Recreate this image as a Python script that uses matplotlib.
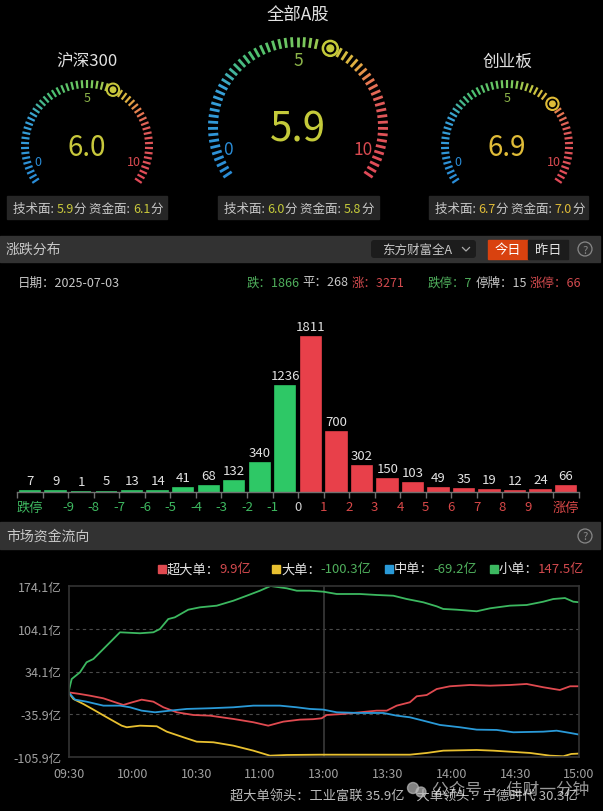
import numpy as np
import matplotlib
matplotlib.use("Agg")
import matplotlib.pyplot as plt
from matplotlib.patches import Rectangle, Circle, FancyBboxPatch
from matplotlib.colors import LinearSegmentedColormap

plt.rcParams['font.family'] = ['Noto Sans CJK SC', 'DejaVu Sans']

# ---------------- data ----------------
gauge_names = ["沪深300", "全部A股", "创业板"]
gauge_scores = [6.0, 5.9, 6.9]
tech_scores = [5.9, 6.0, 6.7]
fund_scores = [6.1, 5.8, 7.0]

trade_date = "2025-07-03"
count_down, count_flat, count_up = 1866, 268, 3271
limit_down, suspended, limit_up = 7, 15, 66

bar_values = [7, 9, 1, 5, 13, 14, 41, 68, 132, 340, 1236,
              1811, 700, 302, 150, 103, 49, 35, 19, 12, 24, 66]
bar_tick_labels = ["-9", "-8", "-7", "-6", "-5", "-4", "-3", "-2", "-1", "0",
                   "1", "2", "3", "4", "5", "6", "7", "8", "9"]

flow_names = ["超大单", "大单", "中单", "小单"]
flow_totals = [9.9, -100.3, -69.2, 147.5]

green_t = [0, 1.5, 5.4, 8.5, 11.7, 16.4, 20.3, 24.2, 33.6, 39.9, 43, 46.9, 50, 56.3, 61.8, 69.7, 77.5, 83.8, 90, 95,
           102.6, 107.3, 113.5, 119.8, 126.1, 137, 144.9, 152.7, 159, 166.8, 173.1, 176.2, 182.5, 191.9, 198.2, 207.5,
           215.4, 223.2, 227.9, 233.4, 237.3, 240]
green_v = [0, 21.8, 32.8, 49.2, 54.6, 71, 84.6, 98.3, 96.7, 98.3, 103.7, 120, 122.8, 135.3, 139.2, 141.9, 150, 158.2,
           166.4, 174.1, 170.3, 166.4, 166.4, 164.8, 161, 161, 159.4, 158.2, 152.8, 147.4, 140.8, 136.5, 135.3, 132.7,
           137.6, 141.9, 143, 148.4, 152.8, 154.4, 148.4, 147.5]

red_t = [0, 5.4, 10.1, 16.4, 21.1, 25.8, 28.9, 34.4, 39.9, 44.6, 50.9, 58.7, 66.5, 77.5, 86.9, 93.9, 101, 108.8, 115,
         119, 121.4, 129.2, 137, 144.9, 149.6, 154.3, 160.5, 163.7, 168.4, 173.1, 179.3, 188.7, 198.2, 207.5, 215.4,
         223.2, 231, 235.8, 240]
red_v = [0, -2.7, -5.5, -9.8, -15.3, -20.7, -17.4, -12, -15.3, -24.5, -32.7, -37.1, -38.2, -43.6, -49, -54.6, -48,
         -44.7, -44, -42.5, -37.1, -35.4, -32.7, -30, -30, -21.8, -16.3, -6.5, -4.4, 5.4, 9.9, 12, 10.9, 12, 13.7, 8.3,
         3.8, 9.9, 9.9]

blue_t = [0, 3.1, 8.5, 16.4, 24.2, 28.9, 34.4, 40.7, 47.7, 55.6, 66.5, 77.5, 86.9, 99.4, 107.3, 113.5, 119.8, 126.1,
          137, 148, 154.3, 160.5, 166.8, 174.6, 184, 191.9, 201.3, 209.1, 223.2, 229.5, 235.8, 240]
blue_v = [0, -12, -15.3, -21.8, -21.8, -24.5, -30, -32.7, -30, -27.2, -26.1, -24.5, -21.8, -21.8, -24.5, -27.2, -28.3,
          -32.7, -33.8, -33.8, -38.2, -40.9, -46.4, -53.4, -57.2, -61.1, -61.6, -65.4, -64.4, -62.8, -66.5, -69.2]

yellow_t = [0, 2.3, 7, 11.7, 18, 25, 27.4, 33.6, 41.5, 46.2, 54, 60.3, 68.1, 77.5, 86.9, 94.7, 102.6, 118.2, 129.2,
            160.5, 168.4, 176.2, 191.9, 199.7, 207.5, 217, 226.4, 232.6, 236.4, 240]
yellow_v = [0, -10.9, -19.1, -28.3, -40.9, -54.6, -57.2, -54.6, -55.6, -64.4, -73.6, -80.8, -81.8, -87.3, -95.5,
            -103.7, -102.6, -102.1, -102.1, -102.1, -99.3, -95.5, -94.4, -95.5, -97.2, -99.3, -103.7, -104.7, -100.9,
            -100.3]

y_ticks = [174.1, 104.1, 34.1, -35.9, -105.9]
x_tick_labels = ["09:30", "10:00", "10:30", "11:00", "13:00", "13:30", "14:00", "14:30", "15:00"]

leader_text = "超大单领头：工业富联 35.9亿    大单领头：宁德时代 30.3亿"

# ---------------- figure ----------------
W, H = 603, 812
fig = plt.figure(figsize=(W / 100, H / 100), dpi=100, facecolor='black')
ov = fig.add_axes([0, 0, 1, 1])
ov.set_xlim(0, W)
ov.set_ylim(H, 0)
ov.axis('off')
ov.set_facecolor('black')
renderer = fig.canvas.get_renderer()

def rect(l, t, r, b):
    return [l / W, 1 - b / H, (r - l) / W, (b - t) / H]

def seq(x, y, pieces, size):
    for s, c in pieces:
        t = ov.text(x, y, s, color=c, fontsize=size, va='center', ha='left')
        bb = t.get_window_extent(renderer=renderer)
        x += bb.width

GREEN_T = '#4fae5c'
RED_T = '#d24a4e'
GRAY_T = '#c8c8c8'
WHITE_T = '#e2e2e2'

# ---------------- gauges ----------------
cmap = LinearSegmentedColormap.from_list('g', [
    (0.0, '#2a8cd6'), (0.25, '#38a2d8'), (0.31, '#46b88e'), (0.37, '#4cc070'),
    (0.52, '#7cc85c'), (0.60, '#c8c840'), (0.67, '#e2b040'), (0.73, '#e87a52'),
    (0.80, '#e05a5a'), (1.0, '#e04a58')])

A0, SPAN = 214.0, 248.0

def gauge(cx, cy, r_in, r_out, n, value, mcol, lw, mr):
    tv = value / 10.0
    for i in range(n):
        t = i / (n - 1)
        if abs(t - tv) < 0.025:
            continue
        a = np.radians(A0 - SPAN * t)
        ov.plot([cx + r_in * np.cos(a), cx + r_out * np.cos(a)],
                [cy - r_in * np.sin(a), cy - r_out * np.sin(a)],
                color=cmap(t), lw=lw, solid_capstyle='butt')
    a = np.radians(A0 - SPAN * tv)
    rm = (r_in + r_out) / 2
    mx, my = cx + rm * np.cos(a), cy - rm * np.sin(a)
    ov.add_patch(Circle((mx, my), mr, color=mcol, zorder=5))
    ov.add_patch(Circle((mx, my), mr * 0.68, color='black', zorder=6))
    ov.add_patch(Circle((mx, my), mr * 0.42, color=mcol, zorder=7))

val_colors = ['#c8c83c', '#c4ca3a', '#e0bc38']
centers = [(87, 147), (298, 128), (507, 147)]
for k, (cx, cy) in enumerate(centers):
    big = (k == 1)
    if big:
        gauge(cx, cy, 80, 90, 61, gauge_scores[k], val_colors[k], 2.0, 8)
        ov.text(cx, 15, gauge_names[k], color=WHITE_T, fontsize=12.5, ha='center', va='center')
        ov.text(cx, cy + 2, f"{gauge_scores[k]:.1f}", color=val_colors[k], fontsize=29, ha='center', va='center')
        ov.text(cx - 70, cy + 22, "0", color='#2a8cd6', fontsize=12.5, ha='center', va='center')
        ov.text(cx + 65, cy + 22, "10", color='#d84a50', fontsize=12.5, ha='center', va='center')
        ov.text(cx, cy - 67, "5", color='#8cb44a', fontsize=12.5, ha='center', va='center')
    else:
        gauge(cx, cy, 58, 66, 55, gauge_scores[k], val_colors[k], 1.6, 6.5)
        ov.text(cx, 62, gauge_names[k], color=WHITE_T, fontsize=12, ha='center', va='center')
        ov.text(cx, cy + 1, f"{gauge_scores[k]:.1f}", color=val_colors[k], fontsize=20, ha='center', va='center')
        ov.text(cx - 49, cy + 16, "0", color='#2a8cd6', fontsize=9, ha='center', va='center')
        ov.text(cx + 47, cy + 16, "10", color='#d84a50', fontsize=9, ha='center', va='center')
        ov.text(cx, cy - 48, "5", color='#8cb44a', fontsize=9, ha='center', va='center')

# score boxes
boxes = [(7, 167), (218, 379), (429, 588)]
for k, (l, r) in enumerate(boxes):
    ov.add_patch(Rectangle((l, 197), r - l, 23, color='#262626', zorder=1))
    vc = val_colors[k]
    seq(l + 6, 209.5, [("技术面: ", GRAY_T), (f"{tech_scores[k]:.1f}", vc), ("分 ", GRAY_T),
                       ("资金面: ", GRAY_T), (f"{fund_scores[k]:.1f}", vc), ("分", GRAY_T)], 9)

# ---------------- header 1 ----------------
ov.add_patch(Rectangle((0, 237), 600, 26, color='#323232', zorder=1))
ov.text(6, 250, "涨跌分布", color=GRAY_T, fontsize=10, ha='left', va='center')
ov.add_patch(FancyBboxPatch((371, 241), 105, 18, boxstyle="round,pad=0,rounding_size=3",
                            fc='#1c1c1c', ec='none', zorder=2))
ov.text(382, 250, "东方财富全A", color=GRAY_T, fontsize=9, ha='left', va='center', zorder=3)
ov.plot([462.5, 466, 469.5], [248.5, 252, 248.5], color='#aaaaaa', lw=0.9, zorder=3)
ov.add_patch(Rectangle((488, 241), 40, 19, color='#d9420f', zorder=2))
ov.text(508, 250.5, "今日", color='white', fontsize=9.5, ha='center', va='center', zorder=3)
ov.add_patch(Rectangle((528, 241), 40, 19, color='#1c1c1c', zorder=2))
ov.text(548, 250.5, "昨日", color=WHITE_T, fontsize=9.5, ha='center', va='center', zorder=3)
for yy in (250, 537):
    ov.add_patch(Circle((585, yy), 7, fc='none', ec='#888888', lw=0.9, zorder=3))
    ov.text(585, yy + 0.5, "?", color='#888888', fontsize=8, ha='center', va='center', zorder=3)

# info row
ov.text(18, 283, f"日期：{trade_date}", color=GRAY_T, fontsize=9, ha='left', va='center')
seq(247, 283, [(f"跌：{count_down}", GREEN_T), (" ", GRAY_T), (f"平：{count_flat}", GRAY_T),
               (" ", GRAY_T), (f"涨：{count_up}", RED_T)], 9)
seq(428, 283, [(f"跌停：{limit_down}", GREEN_T), (" ", GRAY_T), (f"停牌：{suspended}", GRAY_T),
               (" ", GRAY_T), (f"涨停：{limit_up}", RED_T)], 9)

# ---------------- bar chart ----------------
axb = fig.add_axes(rect(17.3, 300, 578.8, 493))
axb.set_facecolor('none')
n = len(bar_values)
xs = np.arange(n) + 0.5
split = 11
cols = ['#2ec866'] * split + ['#e8404a'] * (n - split)
axb.bar(xs, bar_values, width=0.8, color=cols, edgecolor=cols, linewidth=1.2)
axb.set_xlim(0, n)
axb.set_ylim(0, max(bar_values) * 193 / 155)
for x, v in zip(xs, bar_values):
    axb.annotate(str(v), (x, v), xytext=(0, 3), textcoords='offset points',
                 ha='center', va='bottom', color=WHITE_T, fontsize=9.5)
for s in ['top', 'right', 'left']:
    axb.spines[s].set_visible(False)
axb.spines['bottom'].set_color('#707070')
axb.spines['bottom'].set_linewidth(1)
axb.set_yticks([])
axb.set_xticks(np.arange(n + 1))
axb.set_xticklabels([])
axb.tick_params(axis='x', colors='#707070', length=4, width=1)
tr = axb.get_xaxis_transform()
ylab = -15 / 193
axb.text(0.5, ylab, "跌停", transform=tr, color='#3eb860', fontsize=9.5, ha='center', va='center')
axb.text(n - 0.5, ylab, "涨停", transform=tr, color='#d84848', fontsize=9.5, ha='center', va='center')
for i, lab in enumerate(bar_tick_labels):
    v = int(lab)
    c = '#3eb860' if v < 0 else ('#d0d0d0' if v == 0 else '#d84848')
    axb.text(i + 2, ylab, lab, transform=tr, color=c, fontsize=9.5, ha='center', va='center')

# ---------------- header 2 ----------------
ov.add_patch(Rectangle((0, 523), 600, 27, color='#323232', zorder=1))
ov.text(6, 537, "市场资金流向", color=GRAY_T, fontsize=10, ha='left', va='center')

line_cols = ['#e04a50', '#e8c030', '#2a9ad8', '#3cb860']
sq_x = [161.5, 276, 388.5, 493.5]
for k in range(4):
    ov.add_patch(Rectangle((sq_x[k] - 4, 566), 8, 8, color=line_cols[k], zorder=2))
    vcol = RED_T if flow_totals[k] > 0 else GREEN_T
    seq(sq_x[k] + 5, 570, [(f"{flow_names[k]}：", WHITE_T), (f"{flow_totals[k]:.1f}亿", vcol)], 9.5)

# ---------------- line chart ----------------
axl = fig.add_axes(rect(68.5, 587, 579, 758))
axl.set_facecolor('none')
axl.set_xlim(0, 240)
axl.set_ylim(min(y_ticks), max(y_ticks))
for yv in y_ticks[1:-1]:
    axl.axhline(yv, color='#4a4a4a', lw=0.8, ls=(0, (3, 3)))
axl.axvline(120, color='#3a3a3a', lw=1.2)
series = [(red_t, red_v), (yellow_t, yellow_v), (blue_t, blue_v), (green_t, green_v)]
for (t, v), c in zip(series, line_cols):
    axl.plot(t, v, color=c, lw=1.3)
for s in axl.spines.values():
    s.set_color('#333333')
    s.set_linewidth(1.2)
axl.set_yticks(y_ticks)
axl.set_yticklabels([f"{v}亿" for v in y_ticks])
axl.set_xticks(np.arange(0, 241, 30))
axl.set_xticklabels(x_tick_labels)
axl.tick_params(axis='both', length=0, colors='#a0a0a0', labelsize=9)
axl.tick_params(axis='y', pad=5)
axl.tick_params(axis='x', pad=7)

# bottom text & watermark
ov.text(578, 797, leader_text, color='#bbbbbb', fontsize=9.5, ha='right', va='center')
ov.add_patch(Circle((413, 789), 5.5, color='#bbbbbb', alpha=0.7, zorder=4))
ov.add_patch(Circle((421, 793), 5, color='#bbbbbb', alpha=0.7, zorder=4))
ov.text(432, 790, "公众号 · 佳财一分钟", color='white', alpha=0.6, fontsize=12, ha='left', va='center', zorder=4)

fig.savefig("out.png", dpi=100, facecolor='black')
